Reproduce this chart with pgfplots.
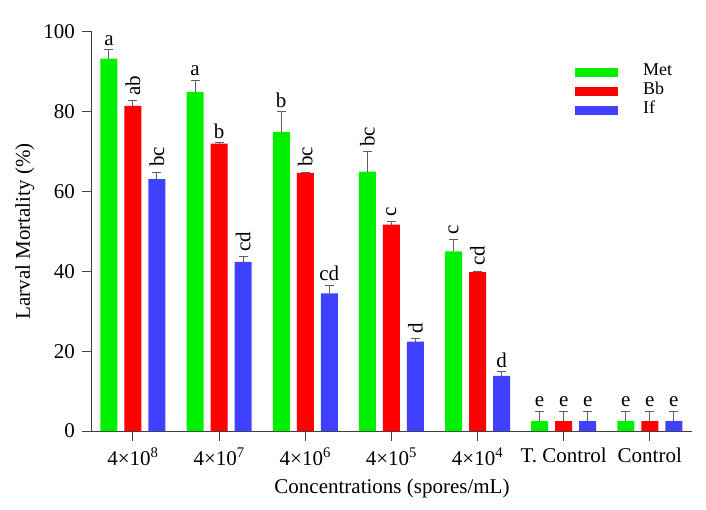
\documentclass[border=0pt]{standalone}
\usepackage{fontspec}
\setmainfont{Liberation Serif}
\usepackage{pgfplots}
\pgfplotsset{compat=1.18}
\definecolor{cgreen}{RGB}{0,240,0}
\definecolor{cred}{RGB}{255,0,0}
\definecolor{cblue}{RGB}{64,64,255}
\definecolor{errc}{RGB}{95,95,95}
\tikzset{lh/.style={anchor=south, inner sep=4pt}, lr/.style={rotate=90, anchor=west, inner sep=5pt}}
\begin{document}
\fontsize{21}{25}\selectfont
\begin{tikzpicture}
\begin{axis}[
 scale only axis, width=600pt, height=399pt,
 xmin=-0.476, xmax=6.49, ymin=0, ymax=100,
 clip=false,
 ybar=7pt, bar width=17pt,
 axis lines=left, axis line style={-, black!75, line width=1pt},
 xtick={0,...,6},
 xticklabels={4×10\textsuperscript{8},4×10\textsuperscript{7},4×10\textsuperscript{6},4×10\textsuperscript{5},4×10\textsuperscript{4},T. Control,Control},
 ytick={0,20,...,100},
 tick align=outside, major tick length=10pt, tick style={black!75, line width=1pt},
 font=\fontsize{21}{25}\selectfont,
 /pgf/number format/assume math mode=true,
 xlabel={Concentrations (spores/mL)},
 ylabel={Larval Mortality (\%)},
 every axis x label/.style={at={(rel axis cs:0.5,-0.143)}, anchor=center},
 every axis y label/.style={at={(rel axis cs:-0.112,0.5)}, rotate=90, anchor=center},
 legend style={at={(rel axis cs:0.805,0.915)}, anchor=north west, draw=none, fill=none, inner sep=0pt,
   font=\fontsize{18}{20}\selectfont,
   nodes={inner sep=0pt, text height=9pt, text depth=3pt, anchor=west}, row sep=7pt},
 legend cell align=left,
 legend image code/.code={\fill[#1,draw=none] (0pt,-4.5pt) rectangle (43pt,4.5pt); \path[draw=none,fill=none] (0pt,-0.1pt) rectangle (68pt,0.1pt);},
 error bars/y dir=plus, error bars/y explicit,
 error bars/error bar style={errc, line width=1pt},
 error bars/error mark options={errc, line width=1pt, mark size=4.5pt, rotate=90},
]
\addplot[fill=cgreen, draw=none] coordinates {
 (0,93.3) +- (0,2.3)
 (1,85.0) +- (0,2.9)
 (2,75.0) +- (0,5.0)
 (3,65.0) +- (0,5.0)
 (4,45.0) +- (0,2.9)
 (5,2.5) +- (0,2.5)
 (6,2.5) +- (0,2.5)
};
\addplot[fill=cred, draw=none] coordinates {
 (0,81.5) +- (0,1.3)
 (1,72.0) +- (0,0.3)
 (2,64.7) +- (0,0.2)
 (3,51.7) +- (0,0.7)
 (4,39.8) +- (0,0.3)
 (5,2.5) +- (0,2.5)
 (6,2.5) +- (0,2.5)
};
\addplot[fill=cblue, draw=none] coordinates {
 (0,63.1) +- (0,1.8)
 (1,42.4) +- (0,1.3)
 (2,34.5) +- (0,2.0)
 (3,22.4) +- (0,0.8)
 (4,13.8) +- (0,1.1)
 (5,2.5) +- (0,2.5)
 (6,2.5) +- (0,2.5)
};
\legend{Met,Bb,If}
% significance letters
\node[lh] at (axis cs:-0.279,95.6) {a};
\node[lr] at (axis cs:0,82.8) {ab};
\node[lr] at (axis cs:0.279,64.9) {bc};
\node[lh] at (axis cs:0.721,87.9) {a};
\node[lh] at (axis cs:1,72.3) {b};
\node[lr] at (axis cs:1.279,43.7) {cd};
\node[lh] at (axis cs:1.721,80.0) {b};
\node[lr] at (axis cs:2,64.9) {bc};
\node[lh] at (axis cs:2.279,36.5) {cd};
\node[lr] at (axis cs:2.721,70.0) {bc};
\node[lr] at (axis cs:3,52.4) {c};
\node[lr] at (axis cs:3.279,23.2) {d};
\node[lr] at (axis cs:3.721,47.9) {c};
\node[lr] at (axis cs:4,40.1) {cd};
\node[lh] at (axis cs:4.279,14.9) {d};
\node[lh] at (axis cs:4.721,5.0) {e};
\node[lh] at (axis cs:5,5.0) {e};
\node[lh] at (axis cs:5.279,5.0) {e};
\node[lh] at (axis cs:5.721,5.0) {e};
\node[lh] at (axis cs:6,5.0) {e};
\node[lh] at (axis cs:6.279,5.0) {e};
\path (rel axis cs:-0.1533,-0.1955) rectangle (rel axis cs:1.0233,1.0802);
\end{axis}
\end{tikzpicture}
\end{document}
